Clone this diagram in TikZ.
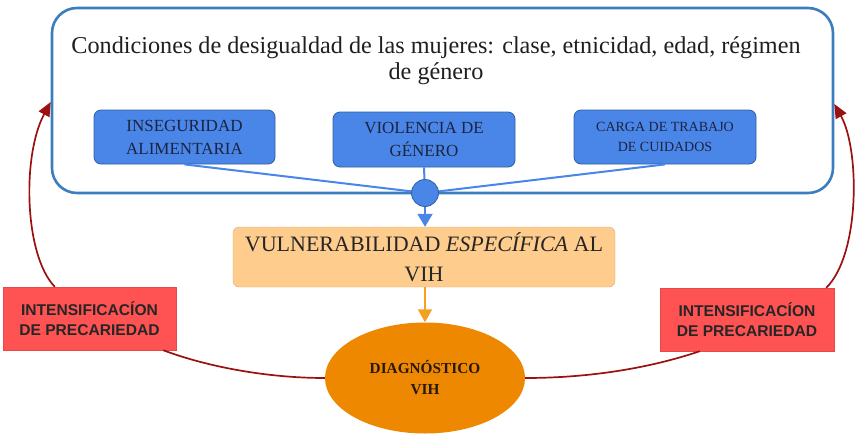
\documentclass[tikz,border=0pt]{standalone}
\usepackage{fontspec}
\setmainfont{Liberation Serif}
\newfontfamily\redfont{Liberation Sans}
\usetikzlibrary{arrows.meta,shapes.geometric}
\definecolor{bigblue}{HTML}{3C7DC0}
\definecolor{boxblue}{HTML}{4A86E8}
\definecolor{boxblueedge}{HTML}{2F5F9F}
\definecolor{lightorange}{HTML}{FECC8C}
\definecolor{arroworange}{HTML}{F5A020}
\definecolor{ellorange}{HTML}{EE8800}
\definecolor{redbox}{HTML}{FF5252}
\definecolor{darkred}{HTML}{9B1010}
\definecolor{navytext}{HTML}{1C2340}
\tikzset{
  bigbox/.style={draw=bigblue, line width=2.6pt, rounded corners=25pt, fill=white},
  bluebox/.style={draw=boxblueedge, line width=0.8pt, fill=boxblue, rounded corners=7pt,
    text=navytext, align=center, inner sep=0pt},
  junction/.style={circle, draw=boxblueedge, line width=0.8pt, fill=boxblue, minimum size=27pt, inner sep=0pt},
  blueline/.style={draw=boxblue, line width=2pt},
  vulnbox/.style={fill=lightorange, draw=lightorange!85!black, line width=0.4pt, rounded corners=6pt,
    align=center, inner sep=0pt, text=black!85},
  diagell/.style={ellipse, fill=ellorange, inner sep=0pt, align=center, text=black!80!brown},
  redbx/.style={fill=redbox, draw=redbox!90!black, line width=0.4pt, align=center, inner sep=0pt,
    text=black!85, font=\redfont\bfseries\fontsize{15.6}{20}\selectfont},
  redline/.style={draw=darkred, line width=1.7pt},
  redarrow/.style={redline, -{Triangle[length=14pt,width=12pt]}},
}
\begin{document}
\begin{tikzpicture}[x=1pt,y=-1pt]
\useasboundingbox (0,0) rectangle (860,437);
% big box
\node[bigbox, minimum width=781pt, minimum height=185pt] (big) at (442.5,100.5) {};
\node[align=center, text=black!88, font=\fontsize{24.2}{26}\selectfont] (title) at (436,61)
  {Condiciones de desigualdad de las mujeres: clase, etnicidad, edad, régimen\\ de género};
% blue boxes
\node[bluebox, minimum width=181pt, minimum height=54pt, font=\fontsize{17}{23}\selectfont] (ins) at (184.5,137)
  {INSEGURIDAD\\ALIMENTARIA};
\node[bluebox, minimum width=182pt, minimum height=55pt, font=\fontsize{17}{23}\selectfont] (vio) at (424,139.5)
  {VIOLENCIA DE\\GÉNERO};
\node[bluebox, minimum width=182pt, minimum height=54pt, font=\fontsize{14}{20}\selectfont] (car) at (665,137)
  {CARGA DE TRABAJO\\DE CUIDADOS};
% connectors to junction
\coordinate (jc) at (425,193);
\draw[blueline] (ins.south) -- (jc);
\draw[blueline] (car.south) -- (jc);
\draw[blueline] (vio.south) -- (jc);
\node[junction] (j) at (jc) {};
% vulnerability box
\node[vulnbox, minimum width=382pt, minimum height=60pt, font=\fontsize{22}{30}\selectfont] (vul) at (424,257)
  {VULNERABILIDAD \textit{ESPECÍFICA} AL\\VIH};
\draw[blueline, -{Triangle[length=13pt,width=15pt]}] (j.south) -- (vul.north -| j.south);
% diagnosis ellipse
\node[diagell, minimum width=200pt, minimum height=111pt, font=\bfseries\fontsize{15.3}{21}\selectfont] (diag) at (425,378)
  {DIAGNÓSTICO\\VIH};
\draw[draw=arroworange, line width=2pt, -{Triangle[length=13pt,width=14pt]}] (vul.south -| j.south) -- (diag.north);
% red boxes
\node[redbx, minimum width=173pt, minimum height=63pt] (lred) at (89.5,318.5)
  {INTENSIFICACÍON\\DE PRECARIEDAD};
\node[redbx, minimum width=174pt, minimum height=63pt] (rred) at (747,319.5)
  {INTENSIFICACÍON\\DE PRECARIEDAD};
% red curves
\draw[redline] (diag.west) .. controls (265,378) and (205,366) .. ([xshift=-13pt]lred.south east);
\draw[redarrow] ([xshift=52pt]lred.north west) .. controls (24,255) and (22,155) .. (big.west |- 0,102);
\draw[redline] (diag.east) .. controls (590,378) and (650,368) .. ([xshift=40pt]rred.south west);
\draw[redarrow] ([xshift=-8pt]rred.north east) .. controls (860,255) and (860,150) .. (big.east |- 0,104);
\end{tikzpicture}
\end{document}
